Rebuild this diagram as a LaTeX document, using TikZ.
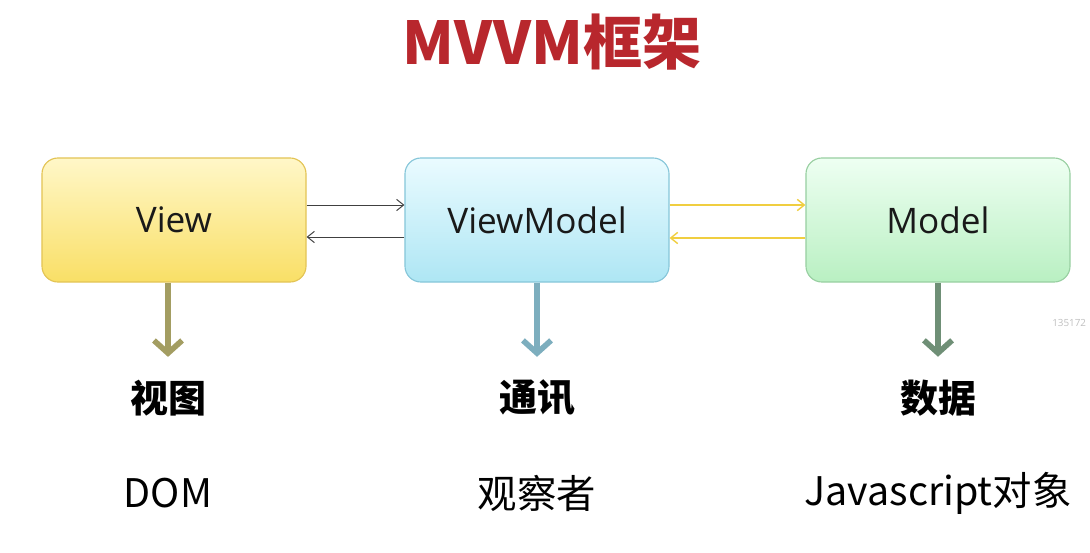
\documentclass[tikz,border=0pt]{standalone}
\usepackage{fontspec}
\setmainfont{Open Sans}
\newfontfamily\cjk{Noto Sans CJK SC}
\usepackage{xcolor}
\usepackage{tikz}
\usetikzlibrary{arrows.meta,calc,positioning}

\definecolor{titlered}{HTML}{B8272D}
\definecolor{viewtop}{HTML}{FFF7C8}
\definecolor{viewbot}{HTML}{F9DF66}
\definecolor{viewline}{HTML}{E3C455}
\definecolor{vmtop}{HTML}{EAFBFF}
\definecolor{vmbot}{HTML}{AEE6F4}
\definecolor{vmline}{HTML}{86C6D9}
\definecolor{mtop}{HTML}{EEFFF2}
\definecolor{mbot}{HTML}{B9F0C2}
\definecolor{mline}{HTML}{98CFA1}
\definecolor{olivearr}{HTML}{A39D62}
\definecolor{bluearr}{HTML}{7DAEBE}
\definecolor{greenarr}{HTML}{6F8F76}
\definecolor{yelarr}{HTML}{F0CE40}

\begin{document}
\begin{tikzpicture}[x=0.025cm, y=-0.025cm]
    \tikzset{layerbox/.style={rounded corners=0.4cm, minimum width=6.6cm, minimum height=3.1cm, line width=0.8pt, text=black!90, font=\fontsize{25}{30}\selectfont}}
    \tikzset{rolelabel/.style={font=\cjk\bfseries\fontsize{27}{32}\selectfont, inner sep=2pt}}
    \tikzset{techlabel/.style={font=\cjk\fontsize{28}{34}\selectfont, inner sep=2pt}}
    \tikzset{linkarr/.style={line width=0.7pt, -{Straight Barb[length=5pt, width=8pt]}}}
    \tikzset{downarr/.style={line width=4.2pt, -{Straight Barb[length=9pt, width=20pt, line width=4pt]}}}
    \useasboundingbox (0,0) rectangle (1090,552);

    % TITLE
    \node[text=titlered, font=\cjk\bfseries\fontsize{42}{48}\selectfont] (title) at (552,42) {MVVM框架};

    % THREE LAYERS
    \node[layerbox, draw=viewline, top color=viewtop, bottom color=viewbot] (View) at (174,220) {View};
    \node[layerbox, draw=vmline, top color=vmtop, bottom color=vmbot] (VM) at (537,220) {ViewModel};
    \node[layerbox, draw=mline, top color=mtop, bottom color=mbot] (Model) at (938,220) {Model};

    % LINKS BETWEEN LAYERS
    \draw[linkarr, black!75] ($(View.east)+(0,-15)$) -- ($(VM.west)+(0,-15)$);
    \draw[linkarr, black!75] ($(VM.west)+(0,17)$) -- ($(View.east)+(0,17)$);
    \draw[linkarr, yelarr, line width=1pt] ($(VM.east)+(0,-15)$) -- ($(Model.west)+(0,-15)$);
    \draw[linkarr, yelarr, line width=1pt] ($(Model.west)+(0,18)$) -- ($(VM.east)+(0,18)$);

    % ROLES AND TECHNOLOGIES
    \node[rolelabel] (role1) at (168,398) {视图};
    \node[rolelabel] (role2) at (537,398) {通讯};
    \node[rolelabel] (role3) at (938,398) {数据};
    \node[techlabel] (tech1) at (168,493) {DOM};
    \node[techlabel] (tech2) at (537,493) {观察者};
    \node[techlabel] (tech3) at (938,493) {Javascript对象};

    % DOWN ARROWS
    \draw[downarr, olivearr] (role1 |- View.south) -- ($(role1.north)+(0,-20)$);
    \draw[downarr, bluearr] (role2 |- VM.south) -- ($(role2.north)+(0,-20)$);
    \draw[downarr, greenarr] (role3 |- Model.south) -- ($(role3.north)+(0,-20)$);

    % WATERMARK
    \node[anchor=west, text=black!25, font=\fontsize{7}{8}\selectfont, inner sep=0pt] (mark) at (1052,323) {135172};
\end{tikzpicture}
\end{document}
